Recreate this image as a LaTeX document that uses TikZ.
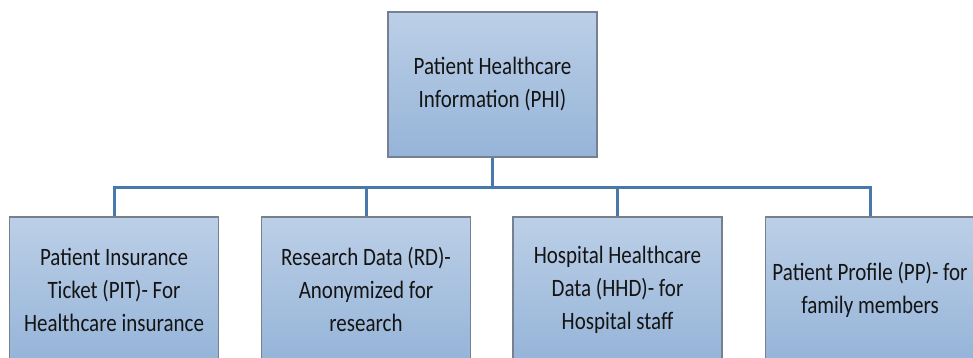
\documentclass[tikz,border=0pt]{standalone}
\usepackage{fontspec}
\setmainfont{Carlito}[FakeStretch=0.84]
\usepackage{tikz}
\usepackage{xcolor}
\usetikzlibrary{positioning, calc}
\definecolor{boxtop}{RGB}{188,207,231}
\definecolor{boxbot}{RGB}{149,180,216}
\definecolor{boxedge}{RGB}{118,128,142}
\definecolor{linkblue}{RGB}{72,121,170}
\definecolor{txtgray}{RGB}{20,20,20}

\tikzset{
    infobox/.style={draw=boxedge, line width=1.2pt, top color=boxtop, bottom color=boxbot,
        minimum width=209pt, minimum height=145pt, inner sep=0pt, align=center,
        text=txtgray, font=\fontsize{25}{33}\selectfont},
    link/.style={draw=linkblue, line width=3pt}
}

\begin{document}
\begin{tikzpicture}[x=1pt, y=1pt]
    \useasboundingbox (0,0) rectangle (973,-358);
    \clip (0,0) rectangle (973,-358);

    % nodo radice
    \node[infobox] (phi) at (492.5,-84.5) {Patient Healthcare\\Information (PHI)};

    % sottocategorie
    \node[infobox] (pit) at (114,-289.5) {Patient Insurance\\Ticket (PIT)- For\\Healthcare insurance};
    \node[infobox] (rd)  at (366,-289.5) {Research Data (RD)-\\Anonymized for\\research};
    \node[infobox] (hhd) at (617.5,-289.5) {Hospital Healthcare\\Data (HHD)- for\\Hospital staff};
    \node[infobox] (pp)  at (870,-289.5) {Patient Profile (PP)- for\\family members};

    % linea di distribuzione
    \coordinate (bus) at (0,-187);
    \draw[link] (phi.south) -- (phi.south |- bus);
    \draw[link] (pit.north) -- (pit.north |- bus) -- (pp.north |- bus) -- (pp.north);
    \foreach \n in {rd, hhd}
        \draw[link] (\n.north) -- (\n.north |- bus);
\end{tikzpicture}
\end{document}
